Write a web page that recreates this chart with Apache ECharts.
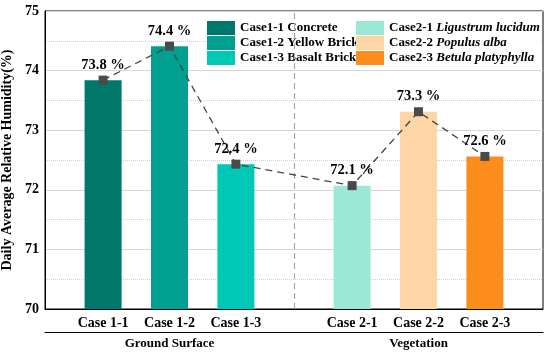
<!DOCTYPE html>
<html>
<head>
<meta charset="utf-8">
<script src="https://cdn.jsdelivr.net/npm/echarts@6/dist/echarts.min.js"></script>
<style>html,body{margin:0;padding:0;background:#fff}#c{width:550px;height:355px}</style>
</head>
<body>
<div id="c"></div>
<script>
const categories = ['Case 1-1', 'Case 1-2', 'Case 1-3', 'Case 2-1', 'Case 2-2', 'Case 2-3'];
const legendNames = ['Case1-1 Concrete', 'Case1-2 Yellow Brick', 'Case1-3 Basalt Brick',
  'Case2-1 Ligustrum lucidum', 'Case2-2 Populus alba', 'Case2-3 Betula platyphylla'];
const values = [73.84, 74.41, 72.43, 72.07, 73.31, 72.56];
const groups = ['Ground Surface', 'Vegetation'];
const colors = ['#00776b', '#009f8f', '#00c8b6', '#9ce8d6', '#fdd5a6', '#fc8c1c'];

const FONT = 'Liberation Serif';
// layout positions along the x value axis (group gap between the two groups)
const pos = categories.map((c, i) => i + 0.875 + (i >= 3 ? 0.75 : 0));
const groupPos = [pos[1], pos[4]];
const divider = (pos[2] + pos[3]) / 2;

function near(a, b) { return Math.abs(a - b) < 1e-6; }

const chart = echarts.init(document.getElementById('c'));
const barSeries = categories.map((c, i) => ({
  type: 'bar',
  name: legendNames[i],
  data: [[pos[i], values[i]]],
  barWidth: 37,
  barGap: '-100%',
  itemStyle: { color: colors[i] },
  z: 2
}));

const legendText = {
  fontFamily: FONT, fontSize: 13, fontWeight: 'bold', color: '#000',
  rich: {
    b: { fontFamily: FONT, fontSize: 13, fontWeight: 'bold', color: '#000' },
    i: { fontFamily: FONT, fontSize: 13, fontWeight: 'bold', fontStyle: 'italic', color: '#000' }
  }
};
function legendFmt(name) {
  const k = name.indexOf(' ');
  const head = name.slice(0, k), tail = name.slice(k + 1);
  if (name.startsWith('Case2')) return '{b|' + head + ' }{i|' + tail + '}';
  return '{b|' + name + '}';
}

chart.setOption({
  animation: false,
  textStyle: { fontFamily: FONT },
  grid: { left: 45, right: 7, top: 11, bottom: 46, outerBoundsMode: 'none', containLabel: false,
    show: true, borderColor: '#000', borderWidth: 1, backgroundColor: 'transparent' },
  legend: [
    { data: legendNames.slice(0, 3), orient: 'vertical', left: 207, top: 21, itemWidth: 28, itemHeight: 14, itemGap: 1,
      icon: 'rect', padding: 0, backgroundColor: '#fff', textStyle: legendText, formatter: legendFmt, selectedMode: false },
    { data: legendNames.slice(3), orient: 'vertical', left: 356, top: 21, itemWidth: 28, itemHeight: 14, itemGap: 1,
      icon: 'rect', padding: 0, backgroundColor: '#fff', textStyle: legendText, formatter: legendFmt, selectedMode: false }
  ],
  xAxis: [
    { type: 'value', min: 0, max: 7.5, position: 'bottom',
      axisLine: { show: true, lineStyle: { color: '#000', width: 1 } },
      axisTick: { show: false }, splitLine: { show: false },
      axisLabel: { customValues: pos, margin: 7, fontFamily: FONT, fontSize: 14, fontWeight: 'bold', color: '#000',
        formatter: v => { const i = pos.findIndex(p => near(p, v)); return i >= 0 ? categories[i] : ''; } } },
    { type: 'value', min: 0, max: 7.5, position: 'bottom', offset: 23,
      axisLine: { show: true, lineStyle: { color: '#000', width: 1 } },
      axisTick: { show: false }, splitLine: { show: false },
      axisLabel: { customValues: groupPos, margin: 5, fontFamily: FONT, fontSize: 13, fontWeight: 'bold', color: '#000',
        formatter: v => { const i = groupPos.findIndex(p => near(p, v)); return i >= 0 ? groups[i] : ''; } } }
  ],
  yAxis: {
    type: 'value', min: 70, max: 75, interval: 1,
    name: 'Daily Average Relative Humidity(%)', nameLocation: 'middle', nameGap: 25,
    nameTextStyle: { fontFamily: FONT, fontSize: 14, fontWeight: 'bold', color: '#000' },
    axisLine: { show: true, lineStyle: { color: '#000', width: 1 } },
    axisTick: { show: false },
    axisLabel: { margin: 6, fontFamily: FONT, fontSize: 14, fontWeight: 'bold', color: '#000' },
    splitLine: { show: true, lineStyle: { color: '#d6d6d6', width: 1 } },
    minorTick: { show: false, splitNumber: 2 },
    minorSplitLine: { show: true, lineStyle: { color: '#d0d0d0', type: 'dotted', width: 1 } }
  },
  series: barSeries.concat([{
    type: 'line',
    name: 'trend',
    data: pos.map((p, i) => [p, values[i]]),
    z: 6,
    symbol: 'rect', symbolSize: 9,
    itemStyle: { color: '#4a4a4a' },
    lineStyle: { color: '#444', width: 1.3, type: [7, 5] },
    label: { show: true, position: 'top', distance: 3, fontFamily: FONT, fontSize: 14.5, fontWeight: 'bold', color: '#000',
      formatter: p => p.value[1].toFixed(1) + ' %' },
    markLine: {
      silent: true, symbol: 'none', label: { show: false },
      lineStyle: { color: '#aaa', type: [6, 4], width: 1.2 },
      data: [{ xAxis: divider }]
    }
  }])
});
</script>
</body>
</html>
